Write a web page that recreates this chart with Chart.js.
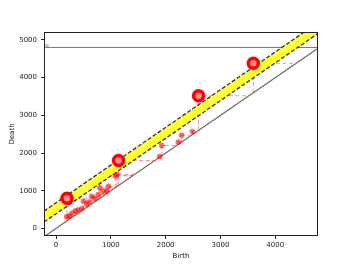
<!DOCTYPE html>
<html>
<head>
<meta charset="utf-8">
<script src="https://cdn.jsdelivr.net/npm/chart.js@4/dist/chart.umd.min.js"></script>
<style>
  html, body { margin: 0; padding: 0; background: #fff; }
  #wrap { width: 354px; height: 266px; }
</style>
</head>
<body>
<div id="wrap"><canvas id="diagram"></canvas></div>
<script>
// persistence pairs
const births = [195, 240, 290, 350, 400, 470, 500, 560, 600, 650, 710, 770, 800, 860, 925, 955, 1080, 1110, 1890, 1930, 2230, 2290, 2490];
const deaths = [310, 330, 400, 460, 490, 530, 720, 640, 700, 850, 790, 900, 1080, 990, 990, 1120, 1400, 1430, 1910, 2200, 2290, 2470, 2570];
const sigBirths = [200, 1140, 2600, 3600];
const sigDeaths = [800, 1800, 3520, 4380];
const infDeath = 4800;
const bandLower = 390;
const bandUpper = 680;
const xTicks = [0, 1000, 2000, 3000, 4000];
const yTicks = [0, 1000, 2000, 3000, 4000, 5000];
const xRange = [-220, 4780];
const yRange = [-200, 5210];

const fontFamily = "'DejaVu Sans', sans-serif";

const smallPts = births.map((b, i) => ({ x: b, y: deaths[i] }));
const bigPts = sigBirths.map((b, i) => ({ x: b, y: sigDeaths[i] }));

// dashed lines from each point down and across to the diagonal
const dropLines = [];
smallPts.concat(bigPts).forEach(p => {
  dropLines.push({ x: p.x, y: p.x }, { x: p.x, y: p.y }, { x: p.y, y: p.y }, { x: p.y, y: null });
});

const diag = [{ x: xRange[0], y: xRange[0] }, { x: xRange[1], y: xRange[1] }];
const infLine = [{ x: xRange[0], y: infDeath }, { x: xRange[1], y: infDeath }];
const lowEdge = [{ x: xRange[0], y: xRange[0] + bandLower }, { x: xRange[1], y: xRange[1] + bandLower }];
const highEdge = [{ x: xRange[0], y: xRange[0] + bandUpper }, { x: xRange[1], y: xRange[1] + bandUpper }];

const frame = {
  id: "frame",
  afterDatasetsDraw(chart) {
    const { ctx, chartArea: a, scales } = chart;
    ctx.save();
    ctx.strokeStyle = "#222";
    ctx.lineWidth = 1;
    ctx.strokeRect(a.left + 0.5, a.top + 0.5, a.right - a.left - 1, a.bottom - a.top - 1);
    ctx.fillStyle = "#444";
    ctx.font = "5px " + fontFamily;
    ctx.textBaseline = "bottom";
    ctx.fillText("\u221e", a.left + 1, scales.y.getPixelForValue(infDeath) + 1);
    ctx.restore();
  }
};

const plain = v => String(v);

new Chart(document.getElementById("diagram"), {
  type: "scatter",
  data: {
    datasets: [
      { data: diag, showLine: true, borderColor: "#6a6a6a", borderWidth: 1.2, pointRadius: 0, order: 6 },
      { data: infLine, showLine: true, borderColor: "#777", borderWidth: 1, pointRadius: 0, order: 6 },
      { data: dropLines, showLine: true, spanGaps: false, borderColor: "rgba(255,70,70,0.6)", borderWidth: 1.1, borderDash: [4, 2.5], pointRadius: 0, order: 5 },
      { data: lowEdge, showLine: true, borderColor: "#333", borderWidth: 1.3, borderDash: [4, 2], pointRadius: 0, order: 4 },
      { data: highEdge, showLine: true, borderColor: "#333", borderWidth: 1.3, borderDash: [4, 2], pointRadius: 0,
        fill: "-1", backgroundColor: "#ffff33", order: 4 },
      { data: smallPts, pointRadius: 2.8, backgroundColor: "rgba(255,0,0,0.6)", borderWidth: 0, order: 2 },
      { data: bigPts, pointRadius: 5, backgroundColor: "#ff8c8c", borderColor: "#ff0000", borderWidth: 3.5, order: 1 }
    ]
  },
  options: {
    responsive: true,
    maintainAspectRatio: false,
    animation: false,
    layout: { padding: { left: 0, right: 36, top: 32, bottom: 0 } },
    plugins: { legend: { display: false }, tooltip: { enabled: false } },
    scales: {
      x: {
        type: "linear", min: xRange[0], max: xRange[1],
        afterBuildTicks: s => { s.ticks = xTicks.map(v => ({ value: v })); },
        afterFit: s => { s.height = 30; },
        grid: { drawOnChartArea: false, tickLength: 3, color: "#222" },
        border: { display: false },
        ticks: { color: "#222", padding: 2, maxRotation: 0, callback: plain, font: { family: fontFamily, size: 7 } },
        title: { display: true, text: "Birth", color: "#111", padding: { top: 0, bottom: 6 }, font: { family: fontFamily, size: 7 } }
      },
      y: {
        type: "linear", min: yRange[0], max: yRange[1],
        afterBuildTicks: s => { s.ticks = yTicks.map(v => ({ value: v })); },
        afterFit: s => { s.width = 44; },
        grid: { drawOnChartArea: false, tickLength: 3, color: "#222" },
        border: { display: false },
        ticks: { color: "#222", padding: 4, callback: plain, font: { family: fontFamily, size: 7 } },
        title: { display: true, text: "Death", color: "#111", padding: { top: 8, bottom: 0 }, font: { family: fontFamily, size: 7 } }
      }
    }
  },
  plugins: [frame]
});
</script>
</body>
</html>
